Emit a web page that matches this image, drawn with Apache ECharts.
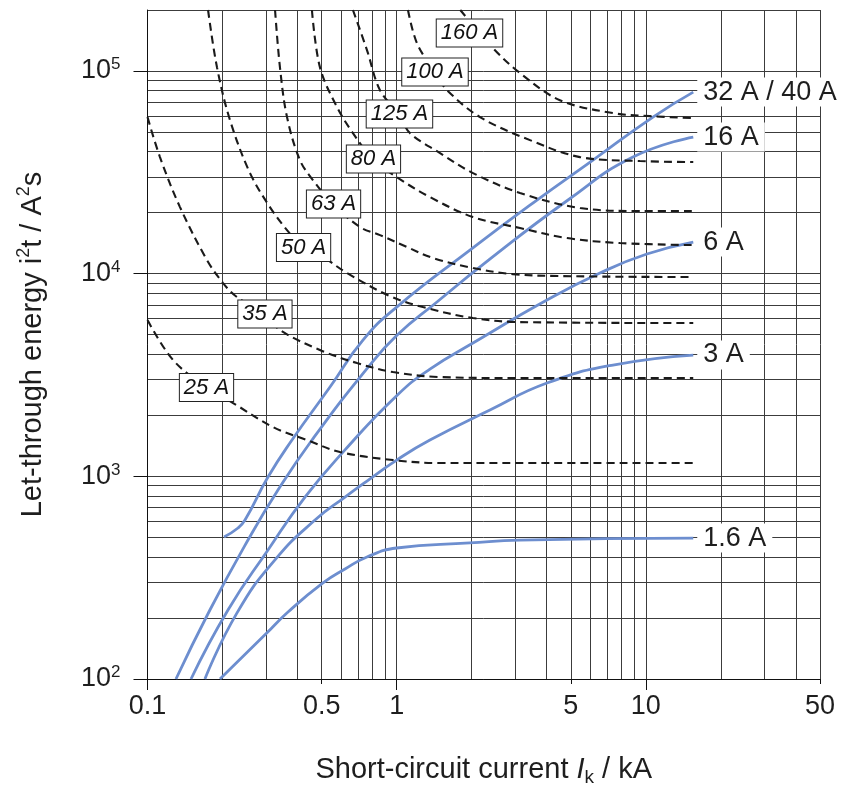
<!DOCTYPE html>
<html><head><meta charset="utf-8">
<script src="https://cdn.jsdelivr.net/npm/echarts@6/dist/echarts.min.js"></script>
<style>html,body{margin:0;padding:0;background:#fff}#c{width:848px;height:785px}</style>
</head><body><div id="c"></div>
<script>
// ---- data (x: short-circuit current kA, y: let-through energy A²s) ----
const mcbNames = ['32 A / 40 A', '16 A', '6 A', '3 A', '1.6 A'];
const mcb32_40 = [[0.2028,502],[0.2308,556],[0.2462,609],[0.3045,992],[0.3801,1511],[0.54,2758],[0.7323,4702],[1.0,6843],[1.968,13080],[3.656,23070],[6.135,36340],[10.68,59260],[15.5,78690]];
const mcb16 = [[0.1301,100],[0.178,219],[0.2531,485],[0.3339,856],[0.4573,1511],[0.76,3400],[1.0,4950],[1.451,7250],[2.304,11500],[4.826,22900],[8.878,37600],[15.5,47210]];
const mcb6 = [[0.1495,100],[0.2104,219],[0.3045,433],[0.4286,790],[0.6204,1350],[1.0,2500],[1.36,3383],[2.024,4546],[4.01,7409],[6.544,10070],[10.1,12500],[15.5,14320]];
const mcb3 = [[0.170,100],[0.2287,212],[0.3248,387],[0.4701,609],[0.6204,790],[0.76,948],[1.0,1203],[1.36,1511],[2.368,2124],[4.01,2886],[7.38,3541],[15.5,3968]];
const mcb1_6 = [[0.1954,100],[0.3017,169],[0.3663,214],[0.5061,298],[0.6204,349],[0.76,400],[1.0,443],[1.968,469],[3.125,485],[15.5,496]];

const fuseNames = ['25 A','35 A','50 A','63 A','80 A','125 A','100 A','160 A'];
const fuse25 = [[0.1,5903],[0.1266,3750],[0.1717,2758],[0.2205,2300],[0.319,1750],[0.4365,1511],[0.592,1318],[0.967,1203],[1.493,1163],[3.126,1163],[15.5,1163]];
const fuse35 = [[0.1,59260],[0.1122,37600],[0.135,21310],[0.1733,11670],[0.201,8990],[0.2286,7667],[0.296,6320],[0.34,5270],[0.492,4200],[0.693,3622],[0.967,3270],[1.493,3090],[3.126,3054],[15.5,3054]];
const fuse50 = [[0.175,200000],[0.190,104500],[0.2143,57260],[0.2579,31350],[0.310,21310],[0.363,16410],[0.4207,13530],[0.506,12080],[0.632,10070],[0.940,7750],[1.275,6842],[2.024,6040],[3.126,5770],[15.5,5705]];
const fuse63 = [[0.325,200000],[0.340,104500],[0.363,59270],[0.409,36330],[0.461,28970],[0.555,22050],[0.713,16980],[0.857,15500],[1.10,13530],[1.40,11940],[2.024,10660],[2.93,9950],[4.52,9730],[15.5,9620]];
const fuse80 = [[0.457,200000],[0.492,104500],[0.576,66400],[0.6675,49400],[0.803,36750],[1.0,29970],[1.36,23880],[2.024,19020],[3.126,16800],[4.826,14990],[7.87,14160],[15.5,13840]];
const fuse125 = [[0.6675,200000],[0.760,126800],[0.857,80500],[1.021,61300],[1.13,49400],[1.493,39360],[2.024,31350],[3.126,25000],[5.44,21080],[9.47,20370],[15.5,20370]];
const fuse100 = [[1.110,200000],[1.206,137300],[1.42,98800],[1.592,80500],[2.159,59260],[3.427,45600],[5.44,37600],[9.47,35950],[15.5,35550]];
const fuse160 = [[1.80,200000],[2.436,129700],[3.126,97700],[4.52,71800],[7.38,62000],[10.4,59900],[15.5,58600]];
const fuseLabelAt = [[0.1725,2742],[0.296,6320],[0.423,13450],[0.558,22050],[0.807,36770],[1.026,61300],[1.425,98800],[1.96,153800]];

const xTickValues = [0.1, 0.5, 1, 5, 10, 50];
const xTickLabels = ['0.1', '0.5', '1', '5', '10', '50'];
const yTickValues = [100, 1000, 10000, 100000];
const yTickExponents = ['2', '3', '4', '5'];

// ---- chart ----
const X_MIN = 0.1, X_MAX = 50, Y_MIN = 100, Y_MAX = 200000;
const lg = Math.log10;
const FONT = '"Liberation Sans", Arial, Helvetica, sans-serif';
const NARROW = '"Liberation Sans Narrow", "Liberation Sans", Arial, sans-serif';
const TXT = '#1e1e1e';
const BLUE = '#6d8ecf';
const GRIDC = '#3c3c3c';

const xGrid = [], yGrid = [];
[0.1, 1, 10].forEach(d => { for (let k = 1; k <= 9; k++) { const v = d * k; if (v <= X_MAX * 1.0001) xGrid.push(lg(v)); } });
[100, 1000, 10000, 100000].forEach(d => { for (let k = 1; k <= 9; k++) { const v = d * k; if (v <= Y_MAX * 1.0001) yGrid.push(lg(v)); } });
const xRange = [lg(X_MIN), lg(X_MAX)], yRange = [lg(Y_MIN), lg(Y_MAX)];

function nearestIdx(arr, v) { return arr.findIndex(t => Math.abs(lg(t) - v) < 1e-6); }

const mcbData = [mcb32_40, mcb16, mcb6, mcb3, mcb1_6];
const fuseData = [fuse25, fuse35, fuse50, fuse63, fuse80, fuse125, fuse100, fuse160];

const series = [];
mcbData.forEach((d, i) => {
  series.push({
    type: 'line', name: mcbNames[i], xAxisIndex: 0, yAxisIndex: 0, data: d,
    smooth: 0.5, symbol: 'none', showSymbol: false, silent: true, z: 2,
    lineStyle: { color: BLUE, width: 2.8 },
    endLabel: { show: true, formatter: mcbNames[i], fontSize: 27, fontFamily: FONT, color: TXT,
      backgroundColor: '#fff', padding: [1, 6, 1, 6], distance: 4 }
  });
});
fuseData.forEach((d, i) => {
  series.push({
    type: 'line', name: fuseNames[i], xAxisIndex: 0, yAxisIndex: 0, data: d,
    smooth: 0.35, symbol: 'none', showSymbol: false, silent: true, z: 3,
    lineStyle: { color: '#1a1a1a', width: 2.1, type: [8, 5] },
    markPoint: {
      silent: true, symbol: 'rect', symbolSize: 1, itemStyle: { color: 'rgba(0,0,0,0)' },
      label: { show: true, position: 'inside', formatter: fuseNames[i], fontStyle: 'italic',
        fontSize: 22, fontFamily: NARROW, color: '#111', backgroundColor: '#fff',
        borderColor: '#222', borderWidth: 1, padding: [3, 4, 2, 4] },
      data: [{ coord: fuseLabelAt[i] }]
    }
  });
});

const hiddenVal = (range, pos) => ({ type: 'value', min: range[0], max: range[1], position: pos,
  axisLine: { show: false, onZero: false }, axisLabel: { show: false }, splitLine: { show: false } });

const option = {
  animation: false,
  backgroundColor: '#fff',
  grid: { left: 147.5, right: 28, top: 10, bottom: 106, containLabel: false, outerBoundsMode: 'none' },
  xAxis: [
    { type: 'log', logBase: 10, min: X_MIN, max: X_MAX, show: false },
    Object.assign(hiddenVal(xRange, 'bottom'), {
      axisLine: { show: true, onZero: false, lineStyle: { color: '#111', width: 1 } },
      axisTick: { show: true, customValues: [0.1, 1, 10].map(lg), length: 11, lineStyle: { color: '#111' } },
      axisLabel: { show: true, customValues: xTickValues.map(lg), margin: 14, fontSize: 27, fontFamily: FONT, color: TXT,
        formatter: v => { const i = nearestIdx(xTickValues, v); return i >= 0 ? xTickLabels[i] : ''; } },
      name: 'Short-circuit current {i|I}{sub|k} / kA', nameLocation: 'middle', nameGap: 74,
      nameTextStyle: { fontSize: 29, fontFamily: FONT, color: TXT, lineHeight: 34,
        rich: { i: { fontSize: 29, fontStyle: 'italic', fontFamily: FONT, color: TXT, lineHeight: 34 },
                sub: { fontSize: 19, fontFamily: FONT, color: TXT, lineHeight: 20, verticalAlign: 'bottom' } } }
    }),
    Object.assign(hiddenVal(xRange, 'bottom'), {
      axisTick: { show: true, customValues: [0.5, 5, 50].map(lg), length: 5, lineStyle: { color: '#111' } }
    }),
    Object.assign(hiddenVal(xRange, 'bottom'), {
      axisTick: { show: false, customValues: xGrid },
      splitLine: { show: true, lineStyle: { color: GRIDC, width: 1 } }
    })
  ],
  yAxis: [
    { type: 'log', logBase: 10, min: Y_MIN, max: Y_MAX, show: false },
    Object.assign(hiddenVal(yRange, 'left'), {
      axisLine: { show: true, onZero: false, lineStyle: { color: '#111', width: 1 } },
      axisTick: { show: true, customValues: yTickValues.map(lg), length: 14, lineStyle: { color: '#111' } },
      axisLabel: { show: true, customValues: yTickValues.map(lg), margin: 27,
        formatter: v => { const i = nearestIdx(yTickValues, v); return i >= 0 ? '{b|10}{s|' + yTickExponents[i] + '}' : ''; },
        rich: { b: { fontSize: 27, fontFamily: FONT, color: TXT, lineHeight: 30 },
                s: { fontSize: 17, fontFamily: FONT, color: TXT, lineHeight: 16, verticalAlign: 'top' } } },
      name: 'Let-through energy i{sup|2}t / A{sup|2}s', nameLocation: 'middle', nameGap: 98, nameRotate: 90,
      nameTextStyle: { fontSize: 29, fontFamily: FONT, color: TXT, lineHeight: 34,
        rich: { sup: { fontSize: 18, fontFamily: FONT, color: TXT, lineHeight: 18, verticalAlign: 'top' } } }
    }),
    Object.assign(hiddenVal(yRange, 'left'), {
      axisTick: { show: false, customValues: yGrid },
      splitLine: { show: true, lineStyle: { color: GRIDC, width: 1 } }
    })
  ],
  series: series
};

const chart = echarts.init(document.getElementById('c'), null, { renderer: 'canvas' });
chart.setOption(option);
</script>
</body></html>
